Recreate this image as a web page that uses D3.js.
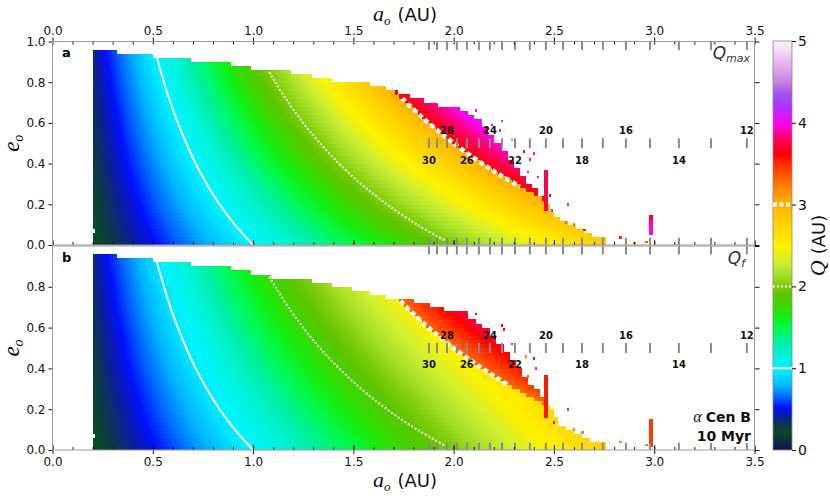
<!DOCTYPE html>
<html>
<head>
<meta charset="utf-8">
<script src="https://cdn.jsdelivr.net/npm/d3@7/dist/d3.min.js"></script>
<style>
  body { margin: 0; background: #fff; }
  text { font-family: "DejaVu Sans", sans-serif; }
  .tick text { font-size: 12px; fill: #111; }
  .tick line { stroke: #111; }
</style>
</head>
<body>
<div id="chart"></div>
<script>
// ---------- values ----------
var xTickValues = [0, 0.5, 1, 1.5, 2, 2.5, 3, 3.5];
var yTickValues = [0, 0.2, 0.4, 0.6, 0.8, 1.0];
var cbTickValues = [0, 1, 2, 3, 4, 5];

// n:1 mean motion resonances, semi-major axis (AU)
var resOrder = [30, 29, 28, 27, 26, 25, 24, 23, 22, 21, 20, 19, 18, 17, 16, 15, 14, 13, 12];
var resA = [1.877, 1.917, 1.967, 2.016, 2.066, 2.126, 2.181, 2.241, 2.306, 2.380, 2.460,
            2.545, 2.640, 2.744, 2.859, 2.979, 3.123, 3.283, 3.462];
var resUpper = [28, 24, 20, 16, 12];
var resLower = [30, 26, 22, 18, 14];

// colour table of the Q bar
var cmapQ = [0, 0.1, 0.22, 0.32, 0.42, 0.52, 0.64, 0.78, 0.92, 1.0, 1.15, 1.32, 1.48, 1.62,
             1.78, 1.9, 2.0, 2.15, 2.3, 2.48, 2.65, 2.85, 3.05, 3.25, 3.45, 3.62, 3.82, 3.98,
             4.18, 4.35, 4.5, 4.72, 5.0];
var cmapColor = ["#0b1450", "#0a2c3e", "#0b4a22", "#0b3452", "#0a1ca8", "#0010ff", "#0064ff",
                 "#00b4ff", "#00e2ff", "#00f4ff", "#00f4dc", "#00f0a4", "#00fa50", "#12f012",
                 "#40d400", "#5ec400", "#7ccc08", "#a8e028", "#d0f030", "#fff200", "#ffde00",
                 "#ffc600", "#ffaa00", "#ff7800", "#ff3a00", "#ff0000", "#ff0070", "#ff00ee",
                 "#b030ff", "#a050f0", "#c880e4", "#e6b4ee", "#fdf4fd"];

// simulation grid
var gridStartA = 0.2, gridEndA = 2.76, gridStepA = 0.01, gridStepE = 0.02;

// upper edge of the surviving region: step start (AU) and top e0
var edgeStartA = [0.20, 0.32, 0.50, 0.60, 0.69, 0.79, 0.89, 0.99, 1.09, 1.19, 1.29, 1.39, 1.49, 1.58,
                  1.66, 1.72, 1.78, 1.85, 1.92, 1.98, 2.03, 2.07, 2.10, 2.14, 2.17, 2.20, 2.24, 2.27,
                  2.30, 2.33, 2.36, 2.39, 2.42, 2.45, 2.48, 2.50, 2.53, 2.57, 2.61, 2.65, 2.69, 2.73, 2.76];
var edgeTopA = [0.955, 0.935, 0.925, 0.915, 0.905, 0.895, 0.885, 0.87, 0.855, 0.84, 0.825, 0.81, 0.795, 0.78,
                0.765, 0.745, 0.725, 0.71, 0.69, 0.675, 0.66, 0.64, 0.62, 0.59, 0.55, 0.51, 0.47, 0.43,
                0.39, 0.35, 0.31, 0.28, 0.24, 0.21, 0.17, 0.15, 0.12, 0.10, 0.075, 0.06, 0.045, 0.035, 0];
var edgeStartB = [0.20, 0.32, 0.50, 0.60, 0.69, 0.79, 0.89, 0.99, 1.09, 1.19, 1.29, 1.39, 1.49, 1.58,
                  1.66, 1.73, 1.80, 1.88, 1.95, 2.02, 2.07, 2.11, 2.14, 2.18, 2.21, 2.25, 2.28, 2.31,
                  2.34, 2.37, 2.40, 2.43, 2.46, 2.48, 2.50, 2.52, 2.56, 2.60, 2.64, 2.68, 2.72, 2.76];
var edgeTopB = [0.955, 0.935, 0.925, 0.915, 0.905, 0.895, 0.88, 0.865, 0.85, 0.835, 0.82, 0.805, 0.79, 0.77,
                0.75, 0.735, 0.72, 0.705, 0.69, 0.675, 0.65, 0.63, 0.60, 0.56, 0.52, 0.48, 0.45, 0.41,
                0.37, 0.33, 0.30, 0.26, 0.22, 0.20, 0.16, 0.12, 0.095, 0.08, 0.06, 0.05, 0.045, 0];

// missing cells
var holeA = [0.205], holeE = [0.07];

// apocentre above which orbits get excited, and the extra Q seen there
var exciteQ = 3.0, exciteBoostA = 0.62, exciteBoostB = 0.3, dampB = 0.25;

// isolated unstable columns: a0, a1, e0, e1, Q
var spikeA_a0 = [2.45, 2.975, 2.975], spikeA_a1 = [2.47, 2.99, 2.99];
var spikeA_e0 = [0.17, 0.05, 0.125], spikeA_e1 = [0.37, 0.125, 0.145], spikeA_q = [3.75, 3.95, 3.7];
var spikeB_a0 = [2.45, 2.975], spikeB_a1 = [2.47, 2.99];
var spikeB_e0 = [0.16, 0.015], spikeB_e1 = [0.37, 0.15], spikeB_q = [3.55, 3.45];

// scattered survivors beyond the edge
var scatA_a = [2.11, 2.24, 2.23, 2.19, 2.29, 2.35, 2.40, 2.38, 2.37, 2.42, 2.57, 2.48, 2.49, 2.56, 2.60, 2.65, 2.83, 2.96, 2.90];
var scatA_e = [0.66, 0.61, 0.565, 0.59, 0.52, 0.46, 0.45, 0.42, 0.36, 0.335, 0.20, 0.245, 0.17, 0.11, 0.10, 0.075, 0.038, 0.016, 0.01];
var scatA_q = [4.1, 4.2, 4.2, 4.0, 4.6, 3.6, 4.0, 4.0, 4.0, 4.05, 4.2, 3.6, 4.0, 3.3, 3.3, 3.5, 3.5, 3.4, 3.2];
var scatB_a = [2.11, 2.24, 2.25, 2.29, 2.36, 2.40, 2.41, 2.37, 2.57, 2.50, 2.60, 2.64, 2.83, 2.96];
var scatB_e = [0.667, 0.61, 0.59, 0.52, 0.46, 0.45, 0.40, 0.36, 0.20, 0.134, 0.10, 0.085, 0.04, 0.025];
var scatB_q = [3.6, 3.6, 3.6, 4.1, 3.2, 3.6, 4.0, 3.3, 4.2, 4.0, 3.2, 3.2, 3.2, 3.2];

// iso-Q curves (a0, e0)
var contourQ1 = [[0.518, 0.93], [0.556, 0.8], [0.588, 0.7], [0.625, 0.6], [0.667, 0.5], [0.714, 0.4],
                 [0.769, 0.3], [0.833, 0.2], [0.909, 0.1], [1.0, 0.0]];
var contourQ2 = [[1.081, 0.85], [1.111, 0.8], [1.176, 0.7], [1.25, 0.6], [1.333, 0.5], [1.429, 0.4],
                 [1.538, 0.3], [1.667, 0.2], [1.818, 0.1], [1.96, 0.02]];
var contourQ3a = [[1.744, 0.72], [1.818, 0.65], [1.875, 0.6], [2.0, 0.5], [2.143, 0.4], [2.222, 0.35], [2.33, 0.287]];
var contourQ3b = [[1.735, 0.73], [1.818, 0.65], [1.875, 0.6], [2.0, 0.5], [2.143, 0.4], [2.222, 0.35], [2.27, 0.32]];

// ---------- chart ----------
var width = 830, height = 498;
var svg = d3.select("#chart").append("svg")
    .attr("width", width)
    .attr("height", height);

var x = d3.scaleLinear().domain([0, 3.5]).range([52.5, 754.5]);
var yA = d3.scaleLinear().domain([0, 1]).range([245, 41.5]);
var yB = d3.scaleLinear().domain([0, 1]).range([450, 246]);
var color = d3.scaleLinear().domain(cmapQ).range(cmapColor).clamp(true);

function qMax(a, e) {
    var q0 = a * (1 + e);
    return q0 >= exciteQ ? q0 + exciteBoostA : q0;
}
function qFinal(a, e) {
    var q0 = a * (1 + e);
    if (q0 >= exciteQ) return q0 + exciteBoostB;
    return a * (1 + e * (1 - dampB * a));
}

function buildCells(edgeStart, edgeTop, qOf) {
    var cells = [];
    var nCols = Math.round((gridEndA - gridStartA) / gridStepA);
    d3.range(nCols).forEach(function (i) {
        var a0 = gridStartA + i * gridStepA;
        var ac = a0 + gridStepA / 2;
        var top = edgeTop[d3.bisectRight(edgeStart, ac) - 1];
        for (var j = 0; (j + 0.5) * gridStepE < top; j++) {
            var e0 = j * gridStepE, ec = e0 + gridStepE / 2;
            var hole = holeA.some(function (h, k) {
                return Math.abs(h - ac) < gridStepA / 2 && Math.abs(holeE[k] - ec) < gridStepE / 2;
            });
            if (hole) continue;
            cells.push({a0: a0, a1: a0 + gridStepA, e0: e0, e1: e0 + gridStepE, q: qOf(ac, ec)});
        }
    });
    return cells;
}

function zipSpikes(a0, a1, e0, e1, q) {
    return a0.map(function (d, i) { return {a0: d, a1: a1[i], e0: e0[i], e1: e1[i], q: q[i]}; });
}
function zipScatter(a, e, q) {
    return a.map(function (d, i) { return {a0: d - 0.006, a1: d + 0.006, e0: e[i] - 0.006, e1: e[i] + 0.006, q: q[i]}; });
}

var panels = [
    {name: "a", y: yA, cells: buildCells(edgeStartA, edgeTopA, qMax),
     extra: zipSpikes(spikeA_a0, spikeA_a1, spikeA_e0, spikeA_e1, spikeA_q).concat(zipScatter(scatA_a, scatA_e, scatA_q)),
     q3: contourQ3a, leftTicks: yTickValues},
    {name: "b", y: yB, cells: buildCells(edgeStartB, edgeTopB, qFinal),
     extra: zipSpikes(spikeB_a0, spikeB_a1, spikeB_e0, spikeB_e1, spikeB_q).concat(zipScatter(scatB_a, scatB_e, scatB_q)),
     q3: contourQ3b, leftTicks: yTickValues.slice(0, 5)}
];

var minorX = x.ticks(35);

panels.forEach(function (p, pi) {
    var y = p.y;
    var g = svg.append("g").attr("class", "panel-" + p.name);

    g.append("clipPath").attr("id", "clip-" + p.name)
        .append("rect")
        .attr("x", x(0)).attr("y", y(1))
        .attr("width", x(3.5) - x(0)).attr("height", y(0) - y(1));

    var plot = g.append("g").attr("clip-path", "url(#clip-" + p.name + ")");

    plot.append("g").selectAll("rect")
        .data(p.cells.concat(p.extra))
        .join("rect")
        .attr("x", function (d) { return x(d.a0); })
        .attr("y", function (d) { return y(d.e1); })
        .attr("width", function (d) { return x(d.a1) - x(d.a0) + 0.3; })
        .attr("height", function (d) { return y(d.e0) - y(d.e1) + 0.3; })
        .attr("fill", function (d) { return color(d.q); })
        .attr("shape-rendering", "crispEdges");

    var line = d3.line()
        .x(function (d) { return x(d[0]); })
        .y(function (d) { return y(d[1]); })
        .curve(d3.curveCatmullRom.alpha(0.5));

    plot.append("path").datum(contourQ1).attr("d", line)
        .attr("fill", "none").attr("stroke", "#fff").attr("stroke-width", 2);
    plot.append("path").datum(contourQ2).attr("d", line)
        .attr("fill", "none").attr("stroke", "#fff").attr("stroke-width", 2)
        .attr("stroke-dasharray", "2,2");
    plot.append("path").datum(p.q3).attr("d", line)
        .attr("fill", "none").attr("stroke", "#fff").attr("stroke-width", 4.5)
        .attr("stroke-dasharray", "4.5,3.2");

    // resonance markers: top, middle and bottom rows
    [[1.0, 0.958], [0.475, 0.525], [0, 0.036]].forEach(function (span) {
        plot.append("g").selectAll("line")
            .data(resA)
            .join("line")
            .attr("x1", function (d) { return x(d); })
            .attr("x2", function (d) { return x(d); })
            .attr("y1", y(span[0]))
            .attr("y2", y(span[1]))
            .attr("stroke", "#8a8a8a")
            .attr("stroke-width", 2);
    });

    g.append("g").selectAll("text")
        .data(resUpper)
        .join("text")
        .attr("x", function (d) { return x(resA[resOrder.indexOf(d)]); })
        .attr("y", y(0.545))
        .attr("text-anchor", "middle")
        .attr("font-size", 10)
        .attr("font-weight", "bold")
        .attr("fill", "#111")
        .text(function (d) { return d; });
    g.append("g").selectAll("text")
        .data(resLower)
        .join("text")
        .attr("x", function (d) { return x(resA[resOrder.indexOf(d)]); })
        .attr("y", y(0.40))
        .attr("text-anchor", "middle")
        .attr("font-size", 10)
        .attr("font-weight", "bold")
        .attr("fill", "#111")
        .text(function (d) { return d; });

    // axes
    g.append("g").attr("transform", "translate(" + x(0) + ",0)")
        .call(d3.axisLeft(y).tickValues(p.leftTicks).tickSize(4).tickPadding(3).tickFormat(d3.format(".1f")));
    g.append("g").attr("transform", "translate(" + x(3.5) + ",0)")
        .call(d3.axisRight(y).tickValues(yTickValues).tickSize(5).tickFormat(""));

    if (pi === 0) {
        g.append("g").attr("transform", "translate(0," + y(1) + ")")
            .call(d3.axisTop(x).tickValues(xTickValues).tickSize(4).tickPadding(3).tickFormat(d3.format(".1f")));
        g.append("g").attr("transform", "translate(0," + y(1) + ")")
            .call(d3.axisBottom(x).tickValues(minorX).tickSize(3).tickFormat(""));
        g.append("g").attr("transform", "translate(0," + y(0) + ")")
            .call(d3.axisTop(x).tickValues(minorX).tickSize(3).tickFormat(""));
        g.append("g").attr("transform", "translate(0," + y(0) + ")")
            .call(d3.axisTop(x).tickValues(xTickValues).tickSize(5).tickFormat(""));
    } else {
        g.append("g").attr("transform", "translate(0," + y(0) + ")")
            .call(d3.axisBottom(x).tickValues(xTickValues).tickSize(4).tickPadding(3).tickFormat(d3.format(".1f")));
        g.append("g").attr("transform", "translate(0," + y(0) + ")")
            .call(d3.axisTop(x).tickValues(minorX).tickSize(3).tickFormat(""));
        g.append("g").attr("transform", "translate(0," + y(0) + ")")
            .call(d3.axisTop(x).tickValues(xTickValues).tickSize(5).tickFormat(""));
    }
    g.selectAll(".domain").remove();

    g.append("rect")
        .attr("x", x(0)).attr("y", y(1))
        .attr("width", x(3.5) - x(0)).attr("height", y(0) - y(1))
        .attr("fill", "none").attr("stroke", "#999").attr("stroke-width", 1);

    // panel letter
    g.append("text")
        .attr("x", 62).attr("y", y(1) + 15.5)
        .attr("font-size", 13).attr("font-weight", "bold")
        .text(p.name);

    // y label
    var yl = g.append("text")
        .attr("transform", "translate(18.5," + ((y(0) + y(1)) / 2) + ") rotate(-90)")
        .attr("text-anchor", "middle");
    yl.append("tspan").attr("font-family", "Liberation Serif, serif").attr("font-style", "italic")
        .attr("font-size", 23).text("e");
    yl.append("tspan").attr("font-family", "Liberation Serif, serif").attr("font-style", "italic")
        .attr("font-size", 14).attr("dy", 4).text("o");
});

// quantity tags
var tagA = svg.append("text").attr("x", 750).attr("y", 59).attr("text-anchor", "end")
    .attr("fill", "#333").attr("font-family", "Liberation Serif, serif").attr("font-style", "italic");
tagA.append("tspan").attr("font-size", 17).text("Q");
tagA.append("tspan").attr("font-size", 11).attr("dy", 3).text("max");

var tagB = svg.append("text").attr("x", 745).attr("y", 264).attr("text-anchor", "end")
    .attr("fill", "#333").attr("font-family", "Liberation Serif, serif").attr("font-style", "italic");
tagB.append("tspan").attr("font-size", 17).text("Q");
tagB.append("tspan").attr("font-size", 11).attr("dy", 3).text("f");

var star = svg.append("text").attr("x", 751).attr("y", 422).attr("text-anchor", "end")
    .attr("font-size", 14).attr("font-weight", "bold").attr("fill", "#111");
star.append("tspan").attr("font-family", "Liberation Serif, serif").attr("font-style", "italic")
    .attr("font-weight", "normal").attr("font-size", 16).text("α");
star.append("tspan").attr("dx", 4).text("Cen B");
svg.append("text").attr("x", 751).attr("y", 441).attr("text-anchor", "end")
    .attr("font-size", 14).attr("font-weight", "bold").attr("fill", "#111")
    .text("10 Myr");

// x titles
function xTitle(yPos) {
    var t = svg.append("text").attr("x", 405).attr("y", yPos).attr("text-anchor", "middle").attr("fill", "#111");
    t.append("tspan").attr("font-family", "Liberation Serif, serif").attr("font-style", "italic")
        .attr("font-size", 22).text("a");
    t.append("tspan").attr("font-family", "Liberation Serif, serif").attr("font-style", "italic")
        .attr("font-size", 13).attr("dy", 4).text("o");
    t.append("tspan").attr("font-size", 18).attr("dy", -4).attr("dx", 7).text("(AU)");
}
xTitle(20.5);
xTitle(487);

// ---------- colour bar ----------
var cbX = 773, cbW = 19;
var cb = d3.scaleLinear().domain([0, 5]).range([450, 41]);

var grad = svg.append("defs").append("linearGradient")
    .attr("id", "qgrad")
    .attr("x1", 0).attr("y1", 1).attr("x2", 0).attr("y2", 0);
grad.selectAll("stop")
    .data(cmapQ)
    .join("stop")
    .attr("offset", function (d) { return d / 5; })
    .attr("stop-color", function (d, i) { return cmapColor[i]; });

svg.append("rect")
    .attr("x", cbX).attr("y", cb(5))
    .attr("width", cbW).attr("height", cb(0) - cb(5))
    .attr("fill", "url(#qgrad)")
    .attr("stroke", "#888").attr("stroke-width", 0.8);

svg.append("line").attr("x1", cbX).attr("x2", cbX + cbW).attr("y1", cb(1)).attr("y2", cb(1))
    .attr("stroke", "#fff").attr("stroke-width", 2);
svg.append("line").attr("x1", cbX).attr("x2", cbX + cbW).attr("y1", cb(2)).attr("y2", cb(2))
    .attr("stroke", "#fff").attr("stroke-width", 2).attr("stroke-dasharray", "2,2");
svg.append("line").attr("x1", cbX).attr("x2", cbX + cbW).attr("y1", cb(3)).attr("y2", cb(3))
    .attr("stroke", "#fff").attr("stroke-width", 4).attr("stroke-dasharray", "4,2.5");

var cbAxis = svg.append("g").attr("transform", "translate(" + (cbX + cbW) + ",0)")
    .call(d3.axisRight(cb).tickValues(cbTickValues).tickSize(4).tickPadding(2).tickFormat(d3.format("d")));
cbAxis.select(".domain").remove();
cbAxis.selectAll(".tick text").style("font-size", "14px");

var cbl = svg.append("text")
    .attr("transform", "translate(825," + ((cb(0) + cb(5)) / 2) + ") rotate(-90)")
    .attr("text-anchor", "middle").attr("fill", "#111");
cbl.append("tspan").attr("font-family", "Liberation Serif, serif").attr("font-style", "italic")
    .attr("font-size", 22).text("Q");
cbl.append("tspan").attr("font-size", 18).attr("dx", 6).text("(AU)");
</script>
</body>
</html>
